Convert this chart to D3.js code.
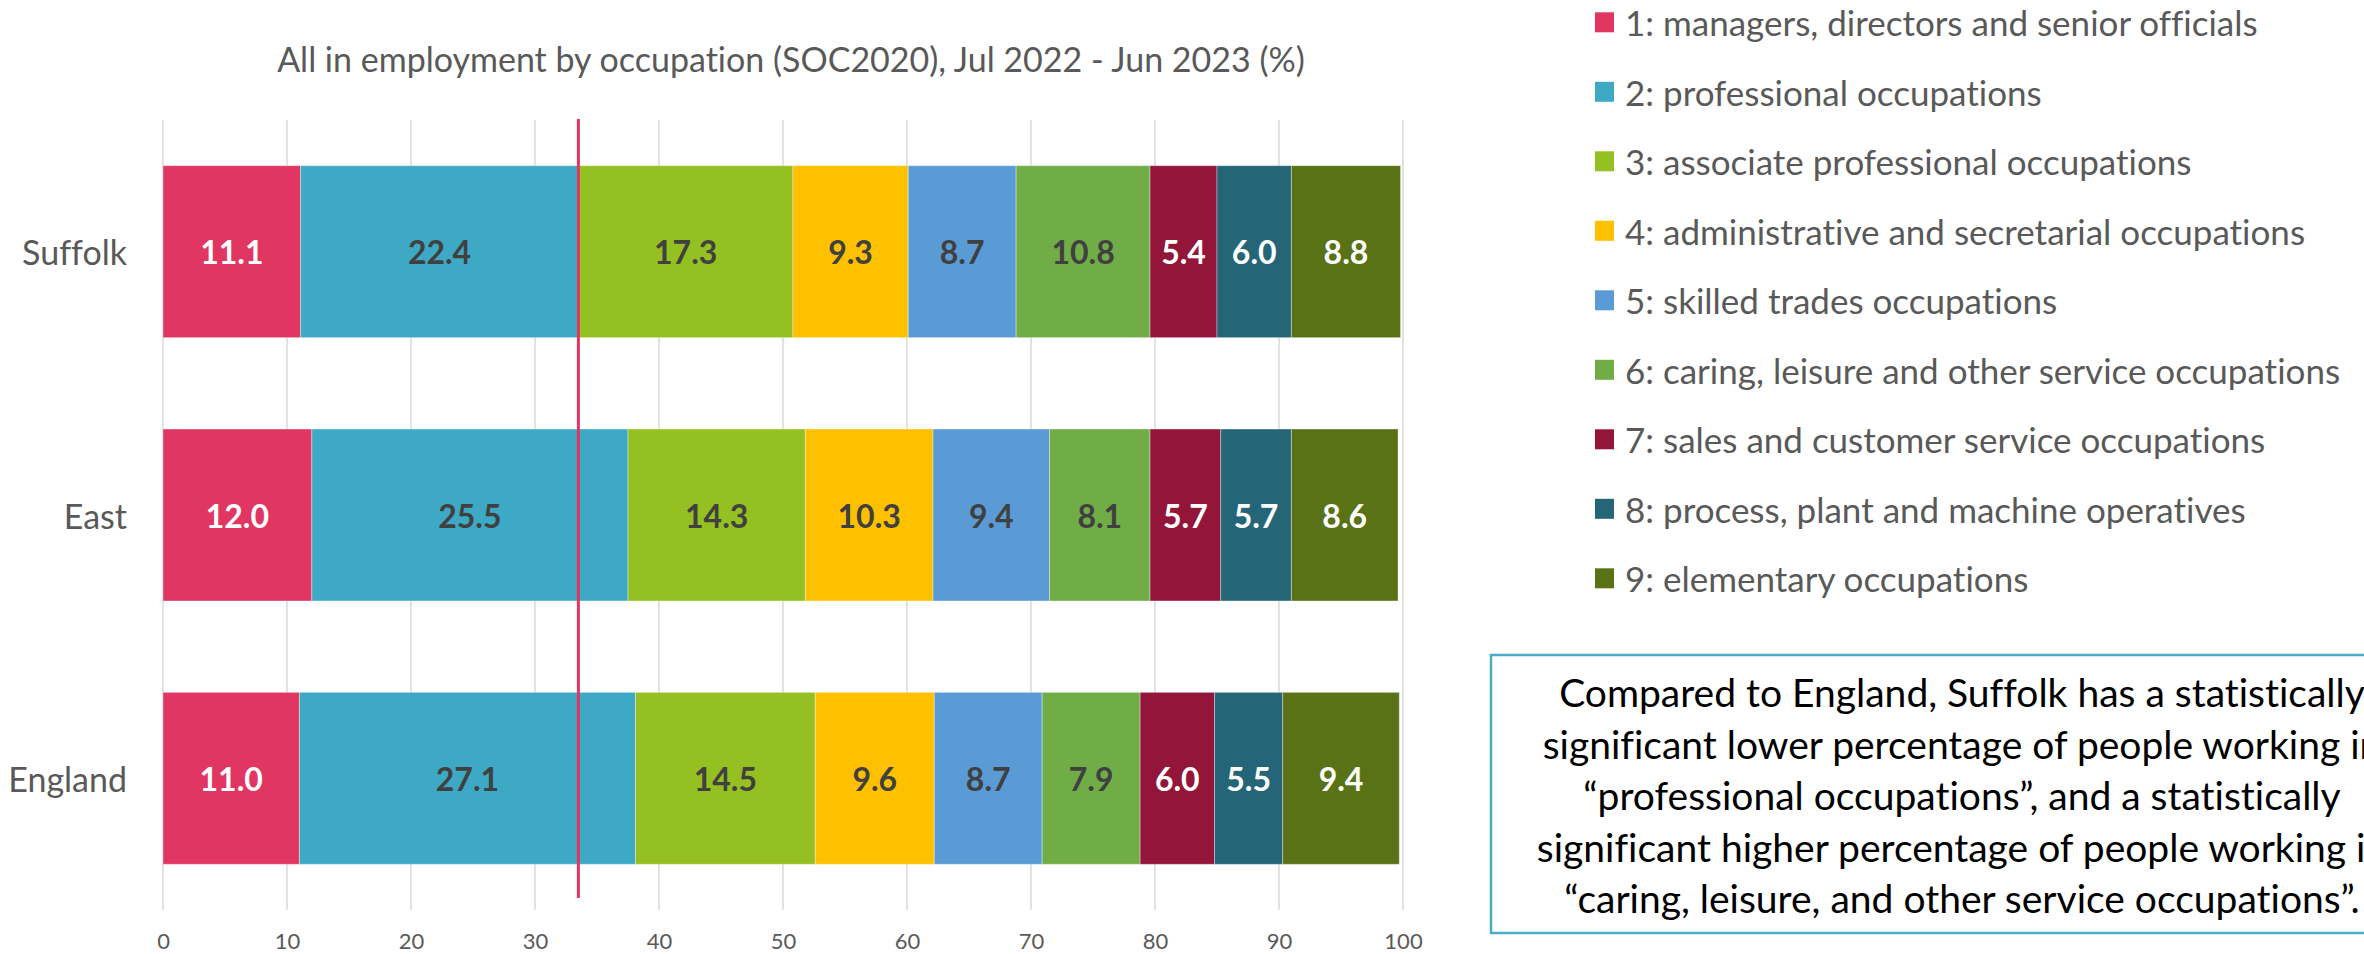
<!DOCTYPE html>
<html>
<head>
<meta charset="utf-8">
<script src="https://cdn.jsdelivr.net/npm/d3@7"></script>
<style>
  html, body { margin: 0; padding: 0; background: #fff; }
  svg { display: block; }
  text { font-family: Lato, "Open Sans", sans-serif; font-variant-ligatures: none; }
</style>
</head>
<body>
<svg id="chart" width="2364" height="954"></svg>
<script>
// Areas compared
const areas = ["Suffolk", "East", "England"];

// SOC2020 major groups
const occupations = [
  "1: managers, directors and senior officials",
  "2: professional occupations",
  "3: associate professional occupations",
  "4: administrative and secretarial occupations",
  "5: skilled trades occupations",
  "6: caring, leisure and other service occupations",
  "7: sales and customer service occupations",
  "8: process, plant and machine operatives",
  "9: elementary occupations"
];

// Share of all in employment (%), one list per area, in occupation order
const suffolkValues = [11.1, 22.4, 17.3, 9.3, 8.7, 10.8, 5.4, 6.0, 8.8];
const eastValues    = [12.0, 25.5, 14.3, 10.3, 9.4, 8.1, 5.7, 5.7, 8.6];
const englandValues = [11.0, 27.1, 14.5, 9.6, 8.7, 7.9, 6.0, 5.5, 9.4];

const xTicks = [0, 10, 20, 30, 40, 50, 60, 70, 80, 90, 100];

const colors = ["#E23662", "#3DA9C5", "#94C021", "#FFC000", "#5B9BD5",
                "#70AD47", "#93153A", "#246677", "#5A7216"];
const labelColors = ["#ffffff", "#404040", "#404040", "#404040", "#404040",
                     "#404040", "#ffffff", "#ffffff", "#ffffff"];

const titleText = "All in employment by occupation (SOC2020), Jul 2022 - Jun 2023 (%)";
const noteLines = [
  "Compared to England, Suffolk has a statistically",
  "significant lower percentage of people working in",
  "\u201Cprofessional occupations\u201D, and a statistically",
  "significant higher percentage of people working in",
  "\u201Ccaring, leisure, and other service occupations\u201D."
];

const valuesByArea = { Suffolk: suffolkValues, East: eastValues, England: englandValues };

// Build stacked rows
const rows = areas.map(a => {
  const r = { area: a };
  occupations.forEach((o, i) => { r[o] = valuesByArea[a][i]; });
  return r;
});
const stacked = d3.stack().keys(occupations)(rows);

const svg = d3.select("#chart");

const plot = { left: 163, right: 1403, top: 120, bottom: 910 };

const x = d3.scaleLinear().domain([0, 100]).range([plot.left, plot.right]);
const y = d3.scaleBand().domain(areas).range([plot.top, plot.bottom])
  .paddingInner(0.347).paddingOuter(0.1735);

// Title
svg.append("text")
  .attr("x", (plot.left + plot.right) / 2 + 8)
  .attr("y", 63)
  .attr("text-anchor", "middle")
  .attr("dominant-baseline", "middle")
  .attr("font-size", 34)
  .attr("fill", "#595959")
  .text(titleText);

// Vertical gridlines
svg.append("g").selectAll("line").data(xTicks).join("line")
  .attr("x1", d => x(d)).attr("x2", d => x(d))
  .attr("y1", plot.top).attr("y2", plot.bottom)
  .attr("stroke", "#d9d9d9").attr("stroke-width", 1.5);

// Stacked bars
const series = svg.append("g").selectAll("g").data(stacked).join("g")
  .attr("fill", (d, i) => colors[i]);

series.selectAll("rect").data(d => d).join("rect")
  .attr("x", d => x(d[0]))
  .attr("y", d => y(d.data.area))
  .attr("width", d => x(d[1]) - x(d[0]))
  .attr("height", y.bandwidth())
  .attr("stroke", "#ffffff").attr("stroke-opacity", 0.35).attr("stroke-width", 1);

// Value labels
series.each(function(s, i) {
  d3.select(this).selectAll("text").data(s).join("text")
    .attr("x", d => (x(d[0]) + x(d[1])) / 2)
    .attr("y", d => y(d.data.area) + y.bandwidth() / 2)
    .attr("text-anchor", "middle")
    .attr("dominant-baseline", "central")
    .attr("font-size", 32)
    .attr("font-weight", 700)
    .attr("fill", labelColors[i])
    .text(d => (d[1] - d[0]).toFixed(1));
});

// Reference line at Suffolk's managers + professional share
const refValue = suffolkValues[0] + suffolkValues[1];
svg.append("line")
  .attr("x1", x(refValue)).attr("x2", x(refValue))
  .attr("y1", plot.top - 1).attr("y2", 898)
  .attr("stroke", colors[0]).attr("stroke-width", 3);

// Category labels
svg.append("g").selectAll("text").data(areas).join("text")
  .attr("x", 127)
  .attr("y", d => y(d) + y.bandwidth() / 2)
  .attr("text-anchor", "end")
  .attr("dominant-baseline", "central")
  .attr("font-size", 34)
  .attr("fill", "#595959")
  .text(d => d);

// X axis tick labels
const xAxis = svg.append("g")
  .attr("transform", `translate(0,${plot.bottom})`)
  .call(d3.axisBottom(x).tickValues(xTicks).tickSize(0).tickPadding(23));
xAxis.select(".domain").remove();
xAxis.selectAll("text")
  .attr("font-family", "Lato, sans-serif")
  .attr("font-size", 22)
  .attr("fill", "#595959");

// Legend
const legend = svg.append("g").selectAll("g").data(occupations).join("g")
  .attr("transform", (d, i) => `translate(1595,${22.3 + i * 69.5})`);
legend.append("rect")
  .attr("x", 0).attr("y", -10).attr("width", 19).attr("height", 20)
  .attr("fill", (d, i) => colors[i]);
legend.append("text")
  .attr("x", 30).attr("y", 0)
  .attr("dominant-baseline", "central")
  .attr("font-size", 35)
  .attr("fill", "#595959")
  .text(d => d);

// Note box
const box = { left: 1491, top: 655, right: 2433, bottom: 933 };
svg.append("rect")
  .attr("x", box.left).attr("y", box.top)
  .attr("width", box.right - box.left).attr("height", box.bottom - box.top)
  .attr("fill", "#ffffff").attr("stroke", "#4BACC6").attr("stroke-width", 2.5);
svg.append("g").selectAll("text").data(noteLines).join("text")
  .attr("x", 1962)
  .attr("y", (d, i) => 692 + i * 51.5)
  .attr("text-anchor", "middle")
  .attr("dominant-baseline", "central")
  .attr("font-size", 39)
  .attr("fill", "#000000")
  .text(d => d);
</script>
</body>
</html>
